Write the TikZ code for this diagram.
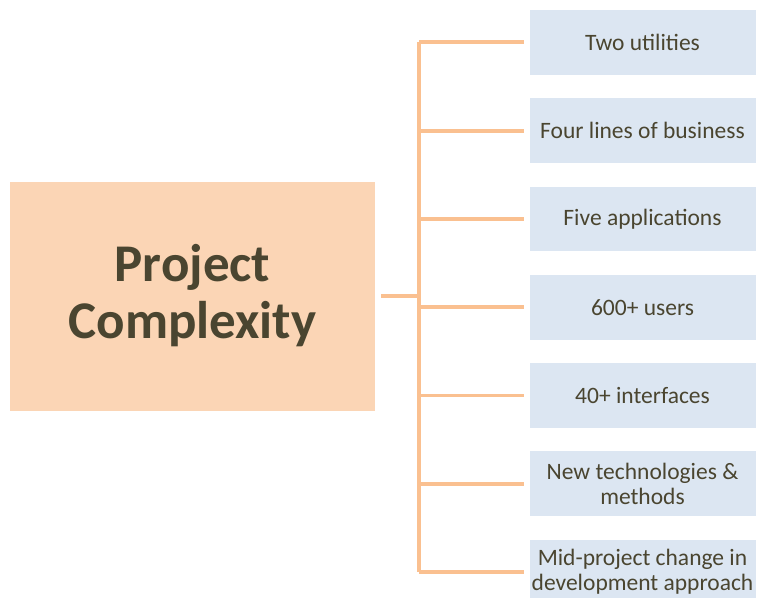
\documentclass[tikz,border=0pt]{standalone}
\usepackage{fontspec}
\setmainfont{Carlito}
\definecolor{txt}{HTML}{4A4530}
\definecolor{peach}{HTML}{FBD5B5}
\definecolor{pale}{HTML}{DCE6F2}
\definecolor{link}{HTML}{FAC090}
\begin{document}
\begin{tikzpicture}[x=1pt,y=-1pt,
  mainbox/.style={fill=peach, draw=none, minimum width=365pt, minimum height=229pt, inner sep=0pt,
    text=txt, font=\fontsize{53}{57}\selectfont\bfseries, align=center},
  itembox/.style={fill=pale, draw=none, minimum width=226pt, minimum height=64.7pt, inner sep=0pt,
    text=txt, font=\fontsize{23.5}{25}\selectfont, align=center},
  conn/.style={draw=link, line width=3.8pt}]
\useasboundingbox (0,0) rectangle (757,597);
\clip (0,0) rectangle (757,597);
\node[mainbox] (main) at (192.5,296) {Project\\Complexity};
\foreach \i/\t in {1/Two utilities,2/Four lines of business,3/Five applications,4/600+ users,5/40+ interfaces,6/{New technologies \&\\methods},7/{Mid-project change in\\development approach}}{
  \node[itembox] (b\i) at (642.5, {42.3+88.3*(\i-1)}) {\t};
  \coordinate (e\i) at ([xshift=-5.5pt]b\i.west);
}
\coordinate (j) at (419,296);
\draw[conn] ([xshift=6pt]main.east) -- (j);
\draw[conn] (e1 -| j) -- (e7 -| j);
\foreach \i in {1,...,7}{
  \draw[conn] (e\i -| j) -- (e\i);
}
\end{tikzpicture}
\end{document}
